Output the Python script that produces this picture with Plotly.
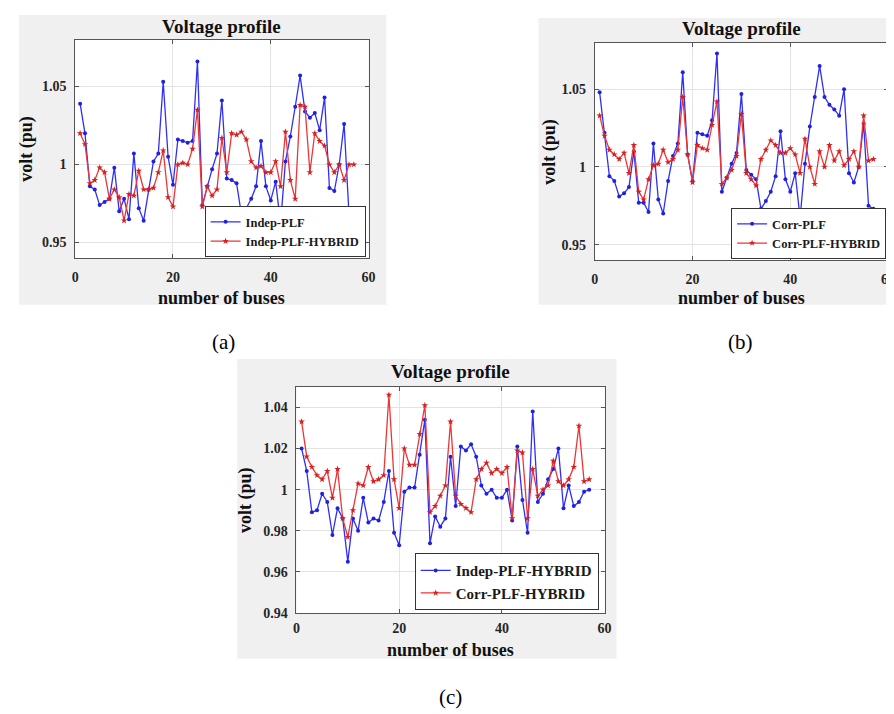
import plotly.graph_objects as go

W, H = 894, 714

buses = list(range(1, 58))

# (a) Indep-PLF vs Indep-PLF-HYBRID
a_indep_plf = [1.039, 1.020, 0.986, 0.984, 0.974, 0.976, 0.978, 0.998, 0.970, 0.978,
               0.965, 1.007, 0.972, 0.964, 0.984, 1.002, 1.007, 1.053, 1.005, 0.987,
               1.016, 1.015, 1.014, 1.015, 1.066, 0.974, 0.986, 0.997, 1.007, 1.041,
               0.991, 0.990, 0.988, 0.968, 0.972, 0.978, 0.986, 1.015, 0.986, 0.977,
               0.989, 0.962, 1.002, 1.018, 1.037, 1.057, 1.034, 1.030, 1.033, 1.022,
               1.043, 0.985, 0.983, 1.000, 1.026, 0.968, 0.966]
a_indep_hybrid = [1.020, 1.013, 0.988, 0.990, 0.998, 0.995, 0.978, 0.984, 0.979, 0.964,
                  0.981, 0.980, 0.996, 0.984, 0.984, 0.985, 0.995, 1.009, 0.979, 0.973,
                  1.000, 1.001, 1.000, 1.010, 1.035, 0.973, 0.986, 0.980, 0.984, 1.017,
                  0.995, 1.020, 1.019, 1.021, 1.016, 1.002, 0.998, 0.999, 0.995, 0.995,
                  1.002, 0.986, 1.021, 0.990, 0.978, 1.038, 1.037, 0.995, 1.020, 1.015,
                  1.012, 1.000, 0.995, 1.000, 0.990, 1.000, 1.000]

# (b) Corr-PLF vs Corr-PLF-HYBRID
b_corr_plf = [1.048, 1.022, 0.994, 0.991, 0.981, 0.983, 0.987, 1.010, 0.977, 0.977,
              0.971, 1.015, 0.979, 0.970, 0.991, 1.007, 1.015, 1.061, 1.008, 0.991,
              1.022, 1.021, 1.020, 1.030, 1.073, 0.984, 0.993, 1.002, 1.009, 1.047,
              0.998, 0.995, 0.992, 0.973, 0.978, 0.984, 0.994, 1.023, 0.992, 0.984,
              0.996, 0.967, 1.002, 1.026, 1.045, 1.065, 1.045, 1.040, 1.037, 1.033,
              1.050, 0.996, 0.990, 1.000, 1.028, 0.975, 0.973]
b_corr_hybrid = [1.033, 1.020, 1.011, 1.008, 1.005, 1.009, 0.996, 1.014, 0.984, 0.979,
                 0.992, 1.001, 1.002, 1.011, 1.003, 1.005, 1.011, 1.045, 1.008, 0.990,
                 1.014, 1.012, 1.011, 1.027, 1.042, 0.989, 0.993, 0.998, 1.007, 1.034,
                 0.996, 0.992, 0.988, 1.005, 1.011, 1.017, 1.014, 1.009, 1.009, 1.012,
                 1.008, 0.996, 1.018, 1.000, 0.989, 1.010, 1.000, 1.014, 1.004, 1.010,
                 1.001, 1.005, 1.010, 1.000, 1.033, 1.004, 1.005]

# (c) Indep-PLF-HYBRID vs Corr-PLF-HYBRID
c_indep_hybrid = [1.020, 1.009, 0.989, 0.990, 0.998, 0.994, 0.978, 0.991, 0.986, 0.965,
                  0.986, 0.980, 0.996, 0.984, 0.986, 0.985, 0.994, 1.009, 0.979, 0.973,
                  0.999, 1.001, 1.001, 1.017, 1.034, 0.974, 0.987, 0.982, 0.986, 1.016,
                  0.992, 1.021, 1.019, 1.022, 1.016, 1.002, 0.998, 1.000, 0.996, 0.996,
                  1.000, 0.985, 1.021, 0.995, 0.979, 1.038, 0.994, 0.998, 1.005, 1.010,
                  1.020, 0.991, 1.002, 0.992, 0.994, 0.999, 1.000]
c_corr_hybrid = [1.033, 1.016, 1.011, 1.007, 1.005, 1.009, 0.996, 1.010, 0.986, 0.977,
                 0.990, 1.003, 1.002, 1.011, 1.004, 1.005, 1.007, 1.046, 1.005, 0.991,
                 1.020, 1.012, 1.012, 1.027, 1.041, 0.989, 0.992, 0.997, 1.002, 1.033,
                 0.997, 0.993, 0.991, 0.989, 1.005, 1.010, 1.013, 1.008, 1.010, 1.008,
                 1.011, 0.986, 1.019, 1.018, 0.986, 1.010, 0.997, 1.000, 1.002, 1.014,
                 1.004, 1.002, 1.005, 1.011, 1.031, 1.004, 1.005]

x_ticks = [0, 20, 40, 60]
y_ticks_ab = [0.95, 1.0, 1.05]
y_ticklabels_ab = ["0.95", "1", "1.05"]
y_ticks_c = [0.94, 0.96, 0.98, 1.0, 1.02, 1.04]
y_ticklabels_c = ["0.94", "0.96", "0.98", "1", "1.02", "1.04"]

BLUE = "#2f2ff5"
RED = "#ee3535"
SERIF = "Liberation Serif"


def X(px):
    return px / W


def Y(py):
    return 1 - py / H


fig = go.Figure()

panels = [
    ("x", "y", "legend", a_indep_plf, "Indep-PLF", a_indep_hybrid, "Indep-PLF-HYBRID"),
    ("x2", "y2", "legend2", b_corr_plf, "Corr-PLF", b_corr_hybrid, "Corr-PLF-HYBRID"),
    ("x3", "y3", "legend3", c_indep_hybrid, "Indep-PLF-HYBRID", c_corr_hybrid, "Corr-PLF-HYBRID"),
]

for xa, ya, lg, s1, n1, s2, n2 in panels:
    fig.add_trace(go.Scatter(x=buses, y=s1, name=n1, mode="lines+markers",
                             line=dict(color=BLUE, width=1.3),
                             marker=dict(color="#2020e0", size=4, symbol="circle"),
                             xaxis=xa, yaxis=ya, legend=lg))
    fig.add_trace(go.Scatter(x=buses, y=s2, name=n2, mode="lines+markers",
                             line=dict(color=RED, width=1.3),
                             marker=dict(color="#d42020", size=5, symbol="star"),
                             xaxis=xa, yaxis=ya, legend=lg))

# axes geometry (pixels)
geo = {
    "a": dict(x0=64, x1=361, y0=32, y1=253),
    "b": dict(x0=590, x1=887, y0=35, y1=255),
    "c": dict(x0=288, x1=600, y0=383, y1=612),
}

tickfont = dict(family=SERIF, size=14, color="#262626", weight="bold")
common_x = dict(range=[0, 60], tickvals=x_ticks, showgrid=True, gridcolor="#e3e3e3",
                showline=True, mirror="ticks", linecolor="#555555", linewidth=1,
                ticks="inside", ticklen=4, tickcolor="#555555", zeroline=False,
                tickfont=tickfont)
common_y = dict(showgrid=True, gridcolor="#e3e3e3", showline=True, mirror="ticks",
                linecolor="#555555", linewidth=1, ticks="inside", ticklen=4,
                tickcolor="#555555", zeroline=False, tickfont=tickfont,
                ticklabelstandoff=5)

ga, gb, gc = geo["a"], geo["b"], geo["c"]
fig.update_layout(
    xaxis=dict(domain=[X(ga["x0"]), X(ga["x1"])], anchor="y", ticklabelstandoff=6, **common_x),
    yaxis=dict(domain=[Y(ga["y1"]), Y(ga["y0"])], anchor="x", range=[0.94, 1.08],
               tickvals=y_ticks_ab, ticktext=y_ticklabels_ab, **common_y),
    xaxis2=dict(domain=[X(gb["x0"]), X(gb["x1"])], anchor="y2", ticklabelstandoff=6, **common_x),
    yaxis2=dict(domain=[Y(gb["y1"]), Y(gb["y0"])], anchor="x2", range=[0.94, 1.08],
                tickvals=y_ticks_ab, ticktext=y_ticklabels_ab, **common_y),
    xaxis3=dict(domain=[X(gc["x0"]), X(gc["x1"])], anchor="y3", ticklabelstandoff=2, **common_x),
    yaxis3=dict(domain=[Y(gc["y1"]), Y(gc["y0"])], anchor="x3", range=[0.94, 1.05],
                tickvals=y_ticks_c, ticktext=y_ticklabels_c, **common_y),
)

leg_common = dict(bgcolor="white", bordercolor="#333333", borderwidth=1,
                  xanchor="right", yanchor="bottom", itemwidth=30, tracegroupgap=0,
                  itemclick=False, itemdoubleclick=False)
fig.update_layout(
    legend=dict(x=X(358), y=Y(252), font=dict(family=SERIF, size=12.5, color="#1a1a1a", weight="bold"), **leg_common),
    legend2=dict(x=X(885), y=Y(254), font=dict(family=SERIF, size=12.5, color="#1a1a1a", weight="bold"), **leg_common),
    legend3=dict(x=X(594), y=Y(609), font=dict(family=SERIF, size=15, color="#1a1a1a", weight="bold"), **leg_common),
)

# grey MATLAB figure panels, then white axes backgrounds
shapes = []
for (x0, y0, x1, y1) in [(7, 7, 379, 300), (533, 10, 894, 300), (228, 355, 612, 658)]:
    shapes.append(dict(type="rect", xref="paper", yref="paper", x0=X(x0), x1=X(x1),
                       y0=Y(y1), y1=Y(y0), fillcolor="#f0f0f0", line=dict(width=0), layer="below"))
for g in geo.values():
    shapes.append(dict(type="rect", xref="paper", yref="paper", x0=X(g["x0"]), x1=X(g["x1"]),
                       y0=Y(g["y1"]), y1=Y(g["y0"]), fillcolor="white", line=dict(width=0), layer="below"))

title_font = dict(family=SERIF, size=19, color="#111111", weight="bold")
label_font = dict(family=SERIF, size=18, color="#111111", weight="bold")
ann = []
title_y = {"a": 19, "b": 21, "c": 368}
xlabel_y = {"a": 293, "b": 293, "c": 649}
ylabel_x = {"a": 15, "b": 544, "c": 237}
for k, g in geo.items():
    cx = (g["x0"] + g["x1"]) / 2
    cy = (g["y0"] + g["y1"]) / 2
    ann.append(dict(text="Voltage profile", x=X(cx), y=Y(title_y[k]), xref="paper", yref="paper",
                    showarrow=False, font=title_font, xanchor="center", yanchor="middle"))
    ann.append(dict(text="number of buses", x=X(cx), y=Y(xlabel_y[k]), xref="paper", yref="paper",
                    showarrow=False, font=label_font, xanchor="center", yanchor="middle"))
    ann.append(dict(text="volt (pu)", x=X(ylabel_x[k]), y=Y(cy), xref="paper", yref="paper",
                    showarrow=False, font=label_font, textangle=-90, xanchor="center", yanchor="middle"))

cap = dict(family=SERIF, size=21, color="black")
for text, px, py in [("(a)", 214, 338), ("(b)", 738, 338), ("(c)", 444, 697)]:
    ann.append(dict(text=text, x=X(px), y=Y(py), xref="paper", yref="paper", showarrow=False,
                    font=cap, xanchor="center", yanchor="middle"))

fig.update_layout(
    width=W, height=H, autosize=False,
    margin=dict(l=0, r=0, t=0, b=0),
    paper_bgcolor="white", plot_bgcolor="rgba(0,0,0,0)",
    shapes=shapes, annotations=ann, showlegend=True,
)

fig.write_html("out.html")
